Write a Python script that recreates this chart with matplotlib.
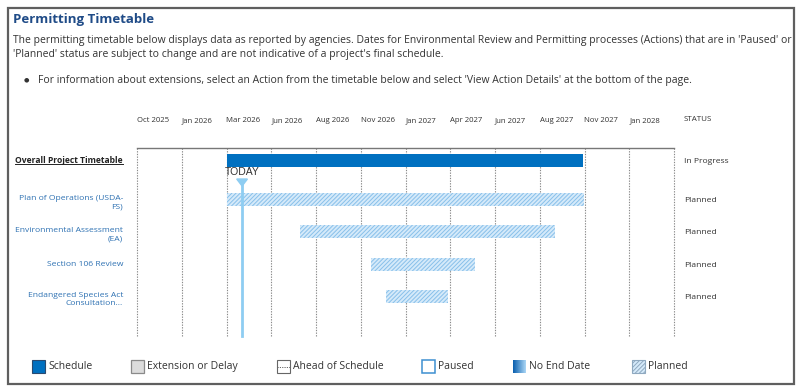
import numpy as np
import matplotlib
matplotlib.use('Agg')
import matplotlib.pyplot as plt
from matplotlib.patches import Rectangle, Polygon
from matplotlib.lines import Line2D
from matplotlib.colors import LinearSegmentedColormap

plt.rcParams['font.family'] = ['Open Sans', 'DejaVu Sans']
plt.rcParams['hatch.linewidth'] = 0.7

# --- data (x in months since Oct 2025) ---
tick_labels = ['Oct 2025', 'Jan 2026', 'Mar 2026', 'Jun 2026', 'Aug 2026', 'Nov 2026',
               'Jan 2027', 'Apr 2027', 'Jun 2027', 'Aug 2027', 'Nov 2027', 'Jan 2028']
tick_pos = [0, 2.5, 5, 7.5, 10, 12.5, 15, 17.5, 20, 22.5, 25, 27.5]
axis_end = 30

actions = ['Overall Project Timetable', 'Plan of Operations (USDA-\nFS)',
           'Environmental Assessment\n(EA)', 'Section 106 Review',
           'Endangered Species Act\nConsultation...']
start = [5.0, 5.0, 9.1, 13.1, 13.9]
end = [24.9, 24.95, 23.35, 18.9, 17.4]
status = ['In Progress', 'Planned', 'Planned', 'Planned', 'Planned']
today = 5.87

legend_names = ['Schedule', 'Extension or Delay', 'Ahead of Schedule', 'Paused', 'No End Date', 'Planned']

# layout (pixels)
W, H = 800, 390
row_y = [160.5, 199.5, 231.5, 264.5, 296.5]
legend_x = [32, 131, 277, 422, 513, 632]

def fx(x):
    return x / W

def fy(y):
    return 1 - y / H

BLUE = '#0070c0'
LINK = '#2f72b3'
TXT = '#333333'
BODY = 7.45
SMALL = 6.1

fig = plt.figure(figsize=(8, 3.9), dpi=100)

# outer frame
fig.add_artist(Rectangle((fx(8), fy(384)), fx(786), (376) / H, transform=fig.transFigure,
                         fill=False, edgecolor='#5f5f5f', lw=1.6))

# header text
fig.text(fx(13), fy(20), 'Permitting Timetable', fontsize=9.5, fontweight='bold',
         color='#1f4b87', va='center')
fig.text(fx(13), fy(41), "The permitting timetable below displays data as reported by agencies. Dates for "
         "Environmental Review and Permitting processes (Actions) that are in 'Paused' or",
         fontsize=BODY, color=TXT, va='center')
fig.text(fx(13), fy(55), "'Planned' status are subject to change and are not indicative of a project's final schedule.",
         fontsize=BODY, color=TXT, va='center')
fig.text(fx(24), fy(80), "\u25cf", fontsize=4.5, color=TXT, va='center')
fig.text(fx(38), fy(80), "For information about extensions, select an Action from the timetable below and "
         "select 'View Action Details' at the bottom of the page.", fontsize=BODY, color=TXT, va='center')

# main timeline axes
ax = fig.add_axes([fx(137), fy(336), 537 / W, 188 / H])
ax.set_xlim(0, axis_end)
ax.set_ylim(336, 148)
for s in ['left', 'right', 'bottom']:
    ax.spines[s].set_visible(False)
ax.spines['top'].set_color('#777777')
ax.spines['top'].set_linewidth(1)
ax.set_yticks([])
ax.xaxis.tick_top()
ax.set_xticks(tick_pos, tick_labels, ha='left', fontsize=5.6, color=TXT)
ax.tick_params(axis='x', length=0, pad=17)

for t in tick_pos + [axis_end]:
    ax.axvline(t, color='#8a8a8a', ls=(0, (1.2, 1.2)), lw=0.8, clip_on=False, zorder=1)

for i in range(len(actions)):
    if i == 0:
        ax.barh(row_y[i], end[i] - start[i], left=start[i], height=13, color=BLUE, lw=0, zorder=3)
    else:
        ax.barh(row_y[i], end[i] - start[i], left=start[i], height=13, facecolor='#d5eafa',
                edgecolor='#88c0ea', hatch='////////', lw=0, zorder=3)

# today marker
ax.plot([today, today], [181, 336], color='#8ecdf2', lw=2, zorder=4, clip_on=False)
ax.add_patch(Polygon([(today - 0.3, 179), (today + 0.3, 179), (today, 186)], closed=True,
                     color='#8ecdf2', zorder=5, clip_on=False))
ax.text(today, 172, 'TODAY', ha='center', va='center', fontsize=7.5, color='#333333',
        family='Liberation Sans', zorder=6)

# row labels and status
lab_tr = ax.get_yaxis_transform()
labels = []
for i, name in enumerate(actions):
    off = 3 if '\n' in name else 0
    if i == 0:
        t = ax.text(-0.026, row_y[i], name, transform=lab_tr, ha='right', va='center',
                    fontsize=SMALL, fontweight='bold', color='#222222')
    else:
        t = ax.text(-0.026, row_y[i] + off, name, transform=lab_tr, ha='right', va='center',
                    fontsize=SMALL, color=LINK, linespacing=1.2, multialignment='right')
    labels.append(t)
    ax.text(1.0186, row_y[i] + 1, status[i], transform=lab_tr, ha='left', va='center',
            fontsize=SMALL, color=TXT)
ax.text(1.0186, 1.15, 'STATUS', transform=ax.transAxes, ha='left', va='center', fontsize=5.8, color=TXT)

# legend
ly0, lsz = 360, 13
for i, name in enumerate(legend_names):
    x = legend_x[i]
    box = (fx(x), fy(ly0 + lsz))
    bw, bh = lsz / W, lsz / H
    if name == 'Schedule':
        fig.add_artist(Rectangle(box, bw, bh, transform=fig.transFigure, facecolor=BLUE,
                                 edgecolor='#2a4a70', lw=0.8))
    elif name == 'Extension or Delay':
        fig.add_artist(Rectangle(box, bw, bh, transform=fig.transFigure, facecolor='#dcdcdc',
                                 edgecolor='#8a8a8a', lw=0.9))
    elif name == 'Ahead of Schedule':
        fig.add_artist(Rectangle(box, bw, bh, transform=fig.transFigure, facecolor='white',
                                 edgecolor='#666666', lw=0.8))
        fig.add_artist(Line2D([fx(x), fx(x + lsz)], [fy(ly0 + lsz / 2)] * 2, transform=fig.transFigure,
                              color='#666666', lw=0.7, ls=(0, (1.2, 1.2))))
    elif name == 'Paused':
        fig.add_artist(Rectangle(box, bw, bh, transform=fig.transFigure, facecolor='white',
                                 edgecolor='#3d8fd1', lw=1.1))
    elif name == 'No End Date':
        gax = fig.add_axes([fx(x), fy(ly0 + lsz), bw, bh])
        cmap = LinearSegmentedColormap.from_list('ned', ['#0a5fae', '#aad6f5'])
        gax.imshow(np.linspace(0, 1, 40)[None, :], cmap=cmap, aspect='auto')
        gax.axis('off')
    else:
        fig.add_artist(Rectangle(box, bw, bh, transform=fig.transFigure, facecolor='#d5eafa',
                                 edgecolor='#8fa9c0', hatch='////////', lw=0.8))
    fig.text(fx(x + lsz + 3), fy(ly0 + lsz / 2), name, fontsize=7.5, color=TXT, va='center')

# underline for the overall label
fig.canvas.draw()
bb = labels[0].get_window_extent()
inv = fig.transFigure.inverted()
(ux0, uy0), (ux1, _) = inv.transform([(bb.x0, bb.y0 + 1), (bb.x1, bb.y0 + 1)])
fig.add_artist(Line2D([ux0, ux1], [uy0, uy0], transform=fig.transFigure, color='#222222', lw=0.7))

fig.savefig('out.png', dpi=100)
